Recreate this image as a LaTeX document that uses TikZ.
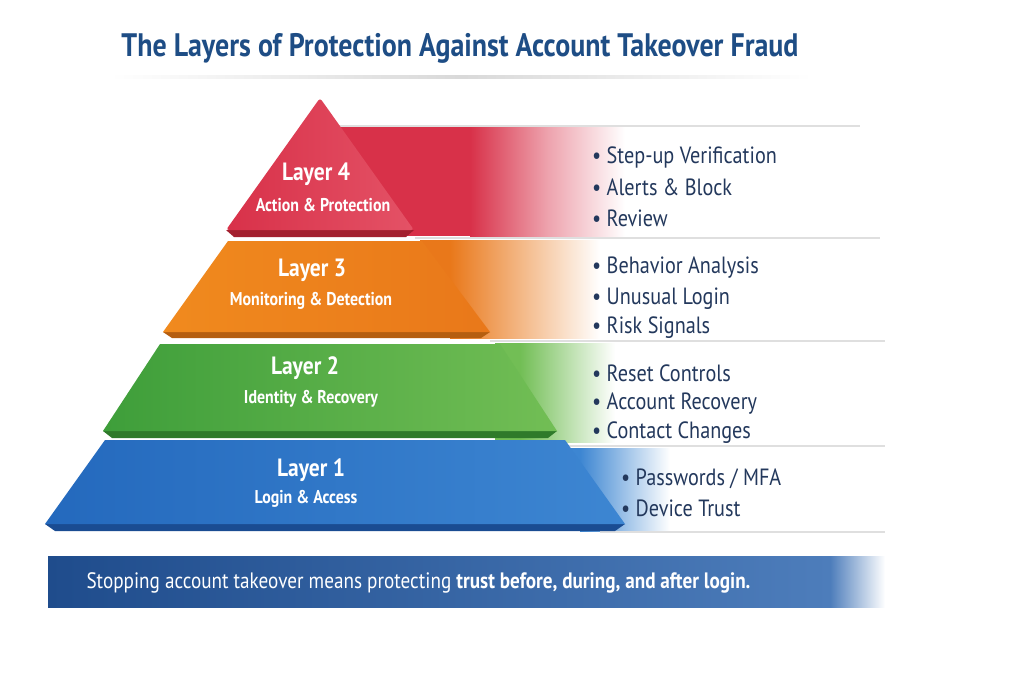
\documentclass[tikz,border=0pt]{standalone}
\usepackage{fontspec}
\setmainfont{PT Sans}[FakeStretch=0.86]
\usepackage{xcolor}
\usepackage{tikz}
\usetikzlibrary{positioning}

\definecolor{titleblue}{HTML}{1E4D85}
\definecolor{navy}{HTML}{23385C}
\definecolor{redD}{HTML}{A3202F}
\definecolor{redM}{HTML}{D83149}
\definecolor{redL}{HTML}{E45266}
\definecolor{orangeD}{HTML}{B55E10}
\definecolor{orangeM}{HTML}{F08A1E}
\definecolor{orangeL}{HTML}{E9781A}
\definecolor{greenD}{HTML}{2F7A2A}
\definecolor{greenM}{HTML}{3E9E3A}
\definecolor{greenL}{HTML}{72BE55}
\definecolor{blueD}{HTML}{1A4C92}
\definecolor{blueM}{HTML}{2469BD}
\definecolor{blueL}{HTML}{3D86D2}
\definecolor{bannerD}{HTML}{1F4C8C}
\definecolor{bannerL}{HTML}{4D7DBB}

\begin{document}
\begin{tikzpicture}[
    x=1pt, y=-1pt,
    heading/.style={font=\fontsize{32.5}{36}\selectfont\bfseries, text=titleblue},
    layertitle/.style={font=\fontsize{25}{28}\selectfont\bfseries, text=white},
    layersub/.style={font=\fontsize{18.5}{22}\selectfont\bfseries, text=white},
    bullet/.style={anchor=west, font=\fontsize{23.5}{26}\selectfont, text=navy, inner sep=0pt},
    separator/.style={gray!25, line width=1.2pt},
]
\useasboundingbox (0,0) rectangle (1024,683);
\fill[white] (0,0) rectangle (1024,683);

% Title
\node[heading] (title) at (460,48) {The Layers of Protection Against Account Takeover Fraud};
\shade[left color=white, right color=white, middle color=gray!30] (110,75) rectangle (812,78);

% === Bands behind the pyramid ===
\fill[redM] (330,127) rectangle (470,236);
\shade[left color=redM, right color=white, middle color=redM!45] (470,127) rectangle (625,236);
\fill[orangeL] (420,240) rectangle (450,338);
\shade[left color=orangeL, right color=white] (450,240) rectangle (600,338);
\fill[greenL] (495,343) rectangle (520,442);
\shade[left color=greenL, right color=white] (520,343) rectangle (615,442);
\fill[blueL] (560,448) rectangle (580,531);
\shade[left color=blueL, right color=white] (580,448) rectangle (670,531);

% separators
\draw[separator] (330,126) -- (860,126);
\draw[separator] (415,238) -- (880,238);
\draw[separator] (490,341) -- (885,341);
\draw[separator] (560,446) -- (885,446);
\draw[separator] (600,532) -- (885,532);

% === Pyramid ===
% Layer 1
\fill[blueD] (45,524) -- (625,524) -- (615,531) -- (55,531) -- cycle;
\shade[left color=blueM, right color=blueL] (105,440) -- (565,440) -- (625,524) -- (45,524) -- cycle;
% Layer 2
\fill[greenD] (103,431) -- (557,431) -- (548,438) -- (112,438) -- cycle;
\shade[left color=greenM, right color=greenL] (160,344) -- (500,344) -- (557,431) -- (103,431) -- cycle;
% Layer 3
\fill[orangeD] (163,332) -- (490,332) -- (481,338) -- (172,338) -- cycle;
\shade[left color=orangeM, right color=orangeL] (228,241) -- (422,241) -- (490,332) -- (163,332) -- cycle;
% Layer 4
\fill[redD] (226,230) -- (414,230) -- (406,237) -- (234,237) -- cycle;
\shade[left color=redM, right color=redL, rounded corners=3pt] (320,98) -- (414,230) -- (226,230) -- cycle;

% layer labels
\node[layertitle] (l4t) at (316,174) {Layer 4};
\node[layersub] (l4s) at (323,205) {Action \& Protection};
\node[layertitle] (l3t) at (312,270) {Layer 3};
\node[layersub] (l3s) at (311,301) {Monitoring \& Detection};
\node[layertitle] (l2t) at (305,368) {Layer 2};
\node[layersub] (l2s) at (311,399) {Identity \& Recovery};
\node[layertitle] (l1t) at (311,470) {Layer 1};
\node[layersub] (l1s) at (306,499) {Login \& Access};

% === Bullet lists ===
\node[bullet] (b41) at (592,157) {\textbullet\ Step-up Verification};
\node[bullet] (b42) at (592,187) {\textbullet\ Alerts \& Block};
\node[bullet] (b43) at (592,218) {\textbullet\ Review};
\node[bullet] (b31) at (592,268) {\textbullet\ Behavior Analysis};
\node[bullet] (b32) at (592,299) {\textbullet\ Unusual Login};
\node[bullet] (b33) at (592,328) {\textbullet\ Risk Signals};
\node[bullet] (b21) at (592,373) {\textbullet\ Reset Controls};
\node[bullet] (b22) at (592,404) {\textbullet\ Account Recovery};
\node[bullet] (b23) at (592,433) {\textbullet\ Contact Changes};
\node[bullet] (b11) at (621,479) {\textbullet\ Passwords / MFA};
\node[bullet] (b12) at (621,508) {\textbullet\ Device Trust};

% === Footer banner ===
\shade[left color=bannerD, right color=bannerL] (48,556) rectangle (830,607);
\shade[left color=bannerL, right color=white] (830,556) rectangle (885,607);
\node[anchor=west, font=\fontsize{22.3}{24}\selectfont, text=white] (footer) at (83,583)
    {Stopping account takeover means protecting \textbf{trust before, during, and after login.}};

\end{tikzpicture}
\end{document}
